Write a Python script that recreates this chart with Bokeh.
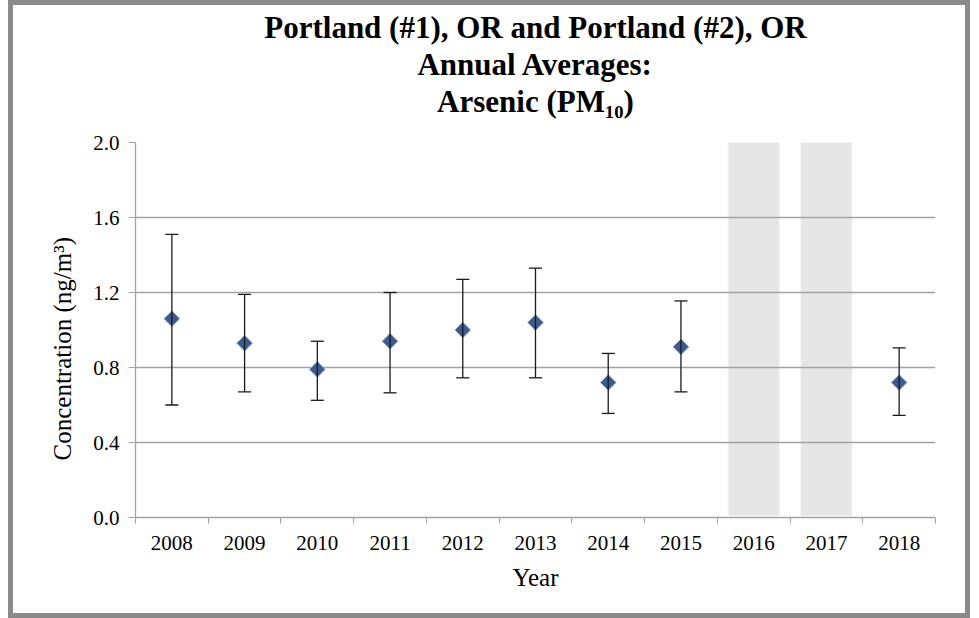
import math
from bokeh.plotting import figure
from bokeh.models import (ColumnDataSource, FixedTicker, PrintfTickFormatter,
                          CustomJSTickFormatter, Whisker, TeeHead, Title, Range1d)
from bokeh.embed import file_html
from bokeh.resources import INLINE

# ---- data ----
years = ["2008", "2009", "2010", "2011", "2012", "2013", "2014", "2015", "2016", "2017", "2018"]
avg = [1.06, 0.93, 0.79, 0.94, 1.00, 1.04, 0.72, 0.91, None, None, 0.72]
upper = [1.51, 1.19, 0.94, 1.20, 1.27, 1.33, 0.875, 1.155, None, None, 0.905]
lower = [0.60, 0.67, 0.625, 0.665, 0.745, 0.745, 0.555, 0.67, None, None, 0.545]
no_data_years = ["2016", "2017"]
y_ticks = [0.0, 0.4, 0.8, 1.2, 1.6, 2.0]

FONT = "Liberation Serif"

idx = list(range(len(years)))
have = [i for i in idx if avg[i] is not None]
src = ColumnDataSource(dict(
    x=[idx[i] for i in have],
    y=[avg[i] for i in have],
    upper=[upper[i] for i in have],
    lower=[lower[i] for i in have],
))
shade = ColumnDataSource(dict(
    x=[years.index(y) for y in no_data_years],
    top=[y_ticks[-1] + 0.02 for _ in no_data_years],
    bottom=[0.01 for _ in no_data_years],
))

p = figure(width=962, height=618, output_backend="svg", toolbar_location=None,
           x_range=Range1d(-0.5, len(years) - 0.5), y_range=Range1d(0, 2.0),
           min_border_left=122, min_border_right=40, min_border_top=136,
           min_border_bottom=106)
p.styles = {"border": "5px solid #8a8a8a", "margin-left": "8px"}
p.outline_line_color = None
p.background_fill_color = "white"
p.border_fill_color = "white"

# no-data shading
p.vbar(x="x", top="top", bottom="bottom", width=0.7, source=shade,
       fill_color="#e6e6e6", line_color="#f1f0e8", line_width=1, level="image")

# error bars
wh = Whisker(base="x", upper="upper", lower="lower", source=src,
             line_color="#1a1a1a", line_width=1.3, level="glyph",
             upper_head=TeeHead(size=13, line_color="#1a1a1a", line_width=1.3),
             lower_head=TeeHead(size=13, line_color="#1a1a1a", line_width=1.3))
p.add_layout(wh)

p.scatter("x", "y", source=src, marker="square", angle=math.pi / 4, size=11,
          fill_color="#3f5a88", line_color="#7b9fd8", line_width=1)

# axes
p.xgrid.visible = False
p.ygrid.ticker = FixedTicker(ticks=y_ticks)
p.ygrid.grid_line_color = "#a3a3a3"
p.ygrid.grid_line_width = 1.3

yax = p.yaxis[0]
yax.ticker = FixedTicker(ticks=y_ticks)
yax.formatter = PrintfTickFormatter(format="%.1f")
yax.axis_line_color = "#a3a3a3"
yax.axis_line_width = 1.3
yax.major_tick_line_color = "#a3a3a3"
yax.major_tick_out = 7
yax.major_tick_in = 0
yax.minor_tick_line_color = None
yax.major_label_standoff = 9
yax.major_label_text_font = FONT
yax.major_label_text_font_size = "21px"
yax.major_label_text_color = "black"
yax.axis_label = "Concentration (ng/m³)" + "\u00a0" * 6
yax.axis_label_standoff = 14
yax.axis_label_text_font = FONT
yax.axis_label_text_font_size = "25px"
yax.axis_label_text_font_style = "normal"
yax.axis_label_text_color = "black"

xax = p.xaxis[0]
xax.ticker = FixedTicker(ticks=idx, minor_ticks=[i - 0.5 for i in range(len(years) + 1)])
xax.formatter = CustomJSTickFormatter(args=dict(labels=years),
                                      code="return labels[Math.round(tick)] || ''")
xax.axis_line_color = "#a3a3a3"
xax.axis_line_width = 1.3
xax.major_tick_line_color = None
xax.major_tick_out = 0
xax.major_tick_in = 0
xax.minor_tick_line_color = "#a3a3a3"
xax.minor_tick_out = 6
xax.minor_tick_in = 0
xax.major_label_standoff = 12
xax.major_label_text_font = FONT
xax.major_label_text_font_size = "21px"
xax.major_label_text_color = "black"
xax.axis_label = "Year"
xax.axis_label_standoff = 11
xax.axis_label_text_font = FONT
xax.axis_label_text_font_size = "25px"
xax.axis_label_text_font_style = "normal"
xax.axis_label_text_color = "black"

# spacer between frame and title, then the three-line title
p.add_layout(Title(text="\u00a0", text_font=FONT, text_font_size="17px",
                   standoff=1), "above")
title_lines = ["Portland (#1), OR and Portland (#2), OR", "Annual Averages:", "Arsenic (PM₁₀)"]
p.add_layout(Title(text="\n".join(title_lines), align="center", text_align="center",
                   text_font=FONT, text_font_size="31px", text_font_style="bold",
                   text_line_height=1.05, text_color="black", standoff=4), "above")

open("out.html", "w").write(file_html(p, INLINE))
